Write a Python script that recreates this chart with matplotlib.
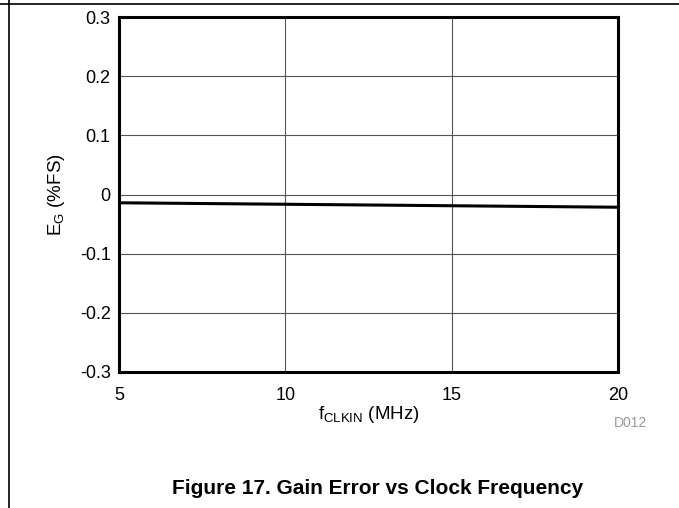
import matplotlib
matplotlib.use('Agg')
import matplotlib.pyplot as plt
import numpy as np

plt.rcParams['font.family'] = ['Liberation Sans', 'DejaVu Sans']

# gain error vs clock frequency
f_clkin = [5, 10, 15, 20]
gain_err = [-0.014, -0.0165, -0.019, -0.0215]

x_ticks = [5, 10, 15, 20]
y_ticks = [-0.3, -0.2, -0.1, 0, 0.1, 0.2, 0.3]
y_labels = ['-0.3', '-0.2', '-0.1', '0', '0.1', '0.2', '0.3']

fig = plt.figure(figsize=(6.79, 5.08), dpi=100)
ax = fig.add_axes([119 / 679, 1 - 372 / 508, (618 - 119) / 679, (372 - 17) / 508])

ax.plot(f_clkin, gain_err, color='black', lw=2.2, zorder=3)
ax.set_xlim(5, 20)
ax.set_ylim(-0.3, 0.3)
ax.set_xticks(x_ticks)
ax.set_yticks(y_ticks)
ax.set_yticklabels(y_labels)
ax.grid(True, color='#555555', lw=0.8)
ax.tick_params(length=0, labelsize=13)
ax.tick_params(axis='x', pad=11)
ax.tick_params(axis='y', pad=6)
for s in ax.spines.values():
    s.set_linewidth(2.2)

ax.set_xlabel('f$_{\\mathregular{CLKIN}}$ (MHz)', fontsize=13.5, labelpad=0)
ax.set_ylabel('E$_{\\mathregular{G}}$ (%FS)', fontsize=13.5, labelpad=9)

fig.text(647 / 679, 1 - 423 / 508, 'D012', color='#999999', fontsize=10, ha='right', va='center')
fig.text(378 / 679, 1 - 489 / 508, 'Figure 17. Gain Error vs Clock Frequency',
         fontsize=15, fontweight='bold', ha='center', va='center')

# page frame lines
fig.add_artist(plt.Line2D([0, 1], [1 - 4 / 508, 1 - 4 / 508], color='black', lw=1.2))
fig.add_artist(plt.Line2D([9 / 679, 9 / 679], [0, 1], color='black', lw=1.2))

fig.savefig('out.png', dpi=100)
